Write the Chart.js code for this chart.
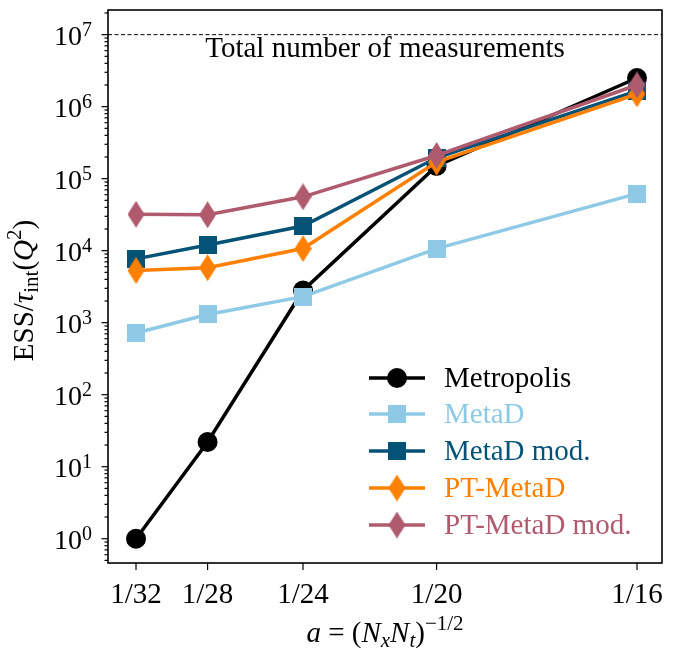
<!DOCTYPE html>
<html>
<head>
<meta charset="utf-8">
<script src="https://cdn.jsdelivr.net/npm/chart.js@4.4.1/dist/chart.umd.min.js"></script>
<style>
  body { margin: 0; background: #ffffff; }
  #essChart { display: block; }
</style>
</head>
<body>
<canvas id="essChart" width="680" height="650"></canvas>
<script>
// lattice spacing a = (Nx*Nt)^(-1/2) and its tick labels
const spacing = [1 / 32, 1 / 28, 1 / 24, 1 / 20, 1 / 16];
const spacingLabels = ['1/32', '1/28', '1/24', '1/20', '1/16'];

// effective sample size over integrated autocorrelation time
const metropolis = [1.0, 22, 2800, 1.5e5, 2.5e6];
const metaD = [720, 1300, 2300, 1.07e4, 6.2e4];
const metaDMod = [7.7e3, 1.2e4, 2.2e4, 1.95e5, 1.66e6];
const ptMetaD = [5.3e3, 5.8e3, 1.07e4, 1.7e5, 1.5e6];
const ptMetaDMod = [3.2e4, 3.15e4, 5.6e4, 2.1e5, 2.0e6];

const totalMeasurements = 1e7;
const yDecades = [0, 1, 2, 3, 4, 5, 6, 7];

const SERIF = '"Liberation Serif", "DejaVu Serif", serif';

// matplotlib-like thin diamond / square markers
function markerCanvas(shape, color) {
    const c = document.createElement('canvas');
    const g = c.getContext('2d');
    if (shape === 'diamond') {
        c.width = 17; c.height = 27;
        g.fillStyle = color;
        g.beginPath();
        g.moveTo(8.5, 0); g.lineTo(17, 13.5); g.lineTo(8.5, 27); g.lineTo(0, 13.5);
        g.closePath();
        g.fill();
    } else {
        c.width = 18; c.height = 18;
        g.fillStyle = color;
        g.fillRect(0, 0, 18, 18);
    }
    return c;
}

function series(label, values, color, marker, order) {
    const style = marker === 'circle' ? 'circle' : markerCanvas(marker, color);
    return {
        label: label,
        data: values.map((v, i) => ({ x: spacing[i], y: v })),
        borderColor: color,
        backgroundColor: color,
        borderWidth: 3.5,
        pointStyle: style,
        pointRadius: 10,
        pointBorderWidth: 0,
        pointBackgroundColor: color,
        pointBorderColor: color,
        tension: 0,
        order: order
    };
}

const datasets = [
    series('Metropolis', metropolis, '#000000', 'circle', 5),
    series('MetaD', metaD, '#8ecae6', 'square', 4),
    series('MetaD mod.', metaDMod, '#045275', 'square', 3),
    series('PT-MetaD', ptMetaD, '#ff8000', 'diamond', 2),
    series('PT-MetaD mod.', ptMetaDMod, '#b05a6e', 'diamond', 1)
];

// draw a run of text pieces: {t, it, sz, dy}
function richText(ctx, parts, x, y, align) {
    const widths = parts.map(p => {
        ctx.font = (p.it ? 'italic ' : '') + (p.sz || 29) + 'px ' + SERIF;
        return ctx.measureText(p.t).width;
    });
    const total = widths.reduce((a, b) => a + b, 0);
    let cx = align === 'center' ? x - total / 2 : align === 'right' ? x - total : x;
    ctx.textAlign = 'left';
    ctx.textBaseline = 'alphabetic';
    parts.forEach((p, i) => {
        ctx.font = (p.it ? 'italic ' : '') + (p.sz || 29) + 'px ' + SERIF;
        ctx.fillText(p.t, cx, y + (p.dy || 0));
        cx += widths[i];
    });
}

const axesDecor = {
    id: 'axesDecor',
    afterDatasetsDraw(chart) {
        const ctx = chart.ctx;
        const area = chart.chartArea;
        const xs = chart.scales.x;
        const ys = chart.scales.y;
        ctx.save();
        ctx.fillStyle = '#000';
        ctx.strokeStyle = '#000';

        // dashed reference line
        const yTot = ys.getPixelForValue(totalMeasurements);
        ctx.lineWidth = 1;
        ctx.setLineDash([4, 2.5]);
        ctx.beginPath();
        ctx.moveTo(area.left, yTot);
        ctx.lineTo(area.right, yTot);
        ctx.stroke();
        ctx.setLineDash([]);
        richText(ctx, [{ t: 'Total number of measurements', sz: 29 }], (area.left + area.right) / 2, 57, 'center');

        // frame
        ctx.lineWidth = 1.6;
        ctx.strokeRect(area.left, area.top, area.right - area.left, area.bottom - area.top);

        // y ticks, major and minor
        ctx.lineWidth = 1.2;
        yDecades.concat([-1]).forEach(d => {
            for (let m = 1; m < 10; m++) {
                const v = m * Math.pow(10, d);
                if (v < ys.min || v > ys.max) continue;
                const py = ys.getPixelForValue(v);
                const len = m === 1 ? 6.5 : 3.5;
                ctx.beginPath();
                ctx.moveTo(area.left - len, py);
                ctx.lineTo(area.left, py);
                ctx.stroke();
            }
        });
        yDecades.forEach(d => {
            const py = ys.getPixelForValue(Math.pow(10, d));
            richText(ctx, [{ t: '10', sz: 28 }, { t: String(d), sz: 20, dy: -9 }], 92, py + 10, 'right');
        });

        // x ticks
        spacing.forEach((v, i) => {
            const px = xs.getPixelForValue(v);
            ctx.beginPath();
            ctx.moveTo(px, area.bottom);
            ctx.lineTo(px, area.bottom + 7);
            ctx.stroke();
            richText(ctx, [{ t: spacingLabels[i], sz: 29 }], px, 603, 'center');
        });

        // axis titles
        richText(ctx, [
            { t: 'a', it: true }, { t: ' = (' }, { t: 'N', it: true }, { t: 'x', it: true, sz: 21, dy: 5 },
            { t: 'N', it: true }, { t: 't', it: true, sz: 21, dy: 5 }, { t: ')' }, { t: '\u22121/2', sz: 21, dy: -12 }
        ], (area.left + area.right) / 2, 642, 'center');

        ctx.save();
        ctx.translate(33, (area.top + area.bottom) / 2 + 4);
        ctx.rotate(-Math.PI / 2);
        richText(ctx, [
            { t: 'ESS/' }, { t: '\u03C4', it: true }, { t: 'int', sz: 21, dy: 5 },
            { t: '(' }, { t: 'Q', it: true }, { t: '2', sz: 21, dy: -12 }, { t: ')' }
        ], 0, 0, 'center');
        ctx.restore();

        // legend in lower right
        const rowY = [378, 414, 451, 488, 525];
        datasets.forEach((ds, i) => {
            const y = rowY[i];
            ctx.strokeStyle = ds.borderColor;
            ctx.lineWidth = 3.5;
            ctx.beginPath();
            ctx.moveTo(369, y);
            ctx.lineTo(425, y);
            ctx.stroke();
            Chart.helpers.drawPoint(ctx, {
                pointStyle: ds.pointStyle, radius: 10, borderWidth: 0, rotation: 0
            }, 397, y);
            ctx.fillStyle = ds.borderColor;
            ctx.font = '29px ' + SERIF;
            ctx.textAlign = 'left';
            ctx.fillText(ds.label, 444, y + 9);
            ctx.fillStyle = '#000';
        });
        ctx.restore();
    }
};

new Chart(document.getElementById('essChart').getContext('2d'), {
    type: 'line',
    data: { datasets: datasets },
    options: {
        responsive: false,
        animation: false,
        layout: { padding: { top: 10, right: 18, left: 0, bottom: 0 } },
        plugins: {
            legend: { display: false },
            tooltip: { enabled: false }
        },
        scales: {
            x: {
                type: 'linear',
                min: 0.029503,
                max: 0.06406,
                grid: { display: false },
                border: { display: false },
                ticks: { display: false },
                afterFit(scale) { scale.height = 87; }
            },
            y: {
                type: 'logarithmic',
                min: 0.46,
                max: 2.2e7,
                grid: { display: false },
                border: { display: false },
                ticks: { display: false },
                afterFit(scale) { scale.width = 108; }
            }
        }
    },
    plugins: [axesDecor]
});
</script>
</body>
</html>
